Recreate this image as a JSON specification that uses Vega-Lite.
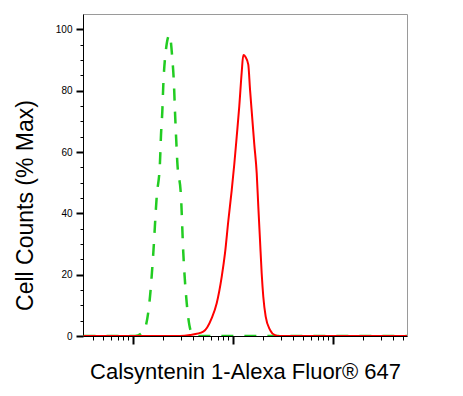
{
  "$schema": "https://vega.github.io/schema/vega-lite/v6.json",
  "width": 324,
  "height": 322,
  "autosize": {"type": "none"},
  "padding": {"left": 83, "top": 14, "right": 56, "bottom": 60},
  "background": "white",
  "config": {
    "view": {"stroke": "#9a9a9a", "strokeWidth": 1},
    "font": "Liberation Sans"
  },
  "datasets": {
    "isotype": [
      {"x": 32, "y": 0}, {"x": 104.7, "y": 0}, {"x": 126.8, "y": 1.4}, {"x": 147.9, "y": 12.8},
      {"x": 159.6, "y": 27.1}, {"x": 172.6, "y": 45.4}, {"x": 186.2, "y": 56.8}, {"x": 190.5, "y": 65.5},
      {"x": 196.3, "y": 73.1}, {"x": 200.9, "y": 81.8}, {"x": 208.9, "y": 90.5}, {"x": 231.7, "y": 98.2},
      {"x": 247.2, "y": 90.5}, {"x": 257.0, "y": 81.8}, {"x": 263.0, "y": 73.1}, {"x": 269.2, "y": 65.5},
      {"x": 277.3, "y": 56.8}, {"x": 302.0, "y": 45.4}, {"x": 318.4, "y": 27.1}, {"x": 344.4, "y": 10.8},
      {"x": 386.4, "y": 1.0}, {"x": 436.5, "y": 0}, {"x": 54900, "y": 0}
    ],
    "sample": [
      {"x": 32, "y": 0}, {"x": 295.1, "y": 0}, {"x": 371.5, "y": 0.3}, {"x": 504.7, "y": 1.4},
      {"x": 612.4, "y": 5.8}, {"x": 687.1, "y": 10.7}, {"x": 770.9, "y": 19.3}, {"x": 831.8, "y": 27},
      {"x": 897.4, "y": 37.5}, {"x": 970.5, "y": 47.5}, {"x": 1030, "y": 56}, {"x": 1089, "y": 65},
      {"x": 1156, "y": 75}, {"x": 1222, "y": 86}, {"x": 1268, "y": 91.6}, {"x": 1334, "y": 91},
      {"x": 1422, "y": 88.5}, {"x": 1479, "y": 80.5}, {"x": 1549, "y": 72}, {"x": 1633, "y": 62.5},
      {"x": 1726, "y": 53.1}, {"x": 1791, "y": 42.2}, {"x": 1862, "y": 31.3}, {"x": 1936, "y": 20.4},
      {"x": 2009, "y": 12.8}, {"x": 2123, "y": 6.3}, {"x": 2344, "y": 2.0}, {"x": 2630, "y": 0.3},
      {"x": 2951, "y": 0}, {"x": 54900, "y": 0}
    ]
  },
  "encoding": {
    "x": {
      "field": "x",
      "type": "quantitative",
      "scale": {"type": "log", "domain": [31.62, 54954], "nice": false},
      "axis": {
        "values": [40, 50, 60, 70, 80, 90, 100, 200, 300, 400, 500, 600, 700, 800, 900, 1000, 2000, 3000, 4000, 5000, 6000, 7000, 8000, 9000, 10000, 20000, 30000, 40000, 50000],
        "labels": false,
        "grid": false,
        "domainColor": "#000000",
        "domainWidth": 1,
        "tickColor": "#000000",
        "tickSize": {"condition": {"test": "datum.value == 100 || datum.value == 1000 || datum.value == 10000", "value": 8}, "value": 4},
        "tickWidth": {"condition": {"test": "datum.value == 100 || datum.value == 1000 || datum.value == 10000", "value": 2}, "value": 1},
        "title": "Calsyntenin 1-Alexa Fluor® 647",
        "titleFont": "Liberation Sans",
        "titleFontSize": 22,
        "titleFontWeight": "normal",
        "titleColor": "#000000",
        "titleBaseline": "alphabetic",
        "titleY": 42
      }
    },
    "y": {
      "field": "y",
      "type": "quantitative",
      "scale": {"domain": [0, 105], "nice": false},
      "axis": {
        "values": [0, 5, 10, 15, 20, 25, 30, 35, 40, 45, 50, 55, 60, 65, 70, 75, 80, 85, 90, 95, 100],
        "labelExpr": "datum.value % 20 === 0 ? datum.label : ''",
        "grid": false,
        "domainColor": "#000000",
        "tickColor": "#000000",
        "tickSize": {"condition": {"test": "datum.value % 20 === 0", "value": 7}, "value": 3},
        "tickWidth": {"condition": {"test": "datum.value % 20 === 0", "value": 2}, "value": 1},
        "labelFont": "Liberation Sans",
        "labelFontSize": 10,
        "labelColor": "#000000",
        "labelPadding": 4,
        "title": "Cell Counts (% Max)",
        "titleFont": "Liberation Sans",
        "titleFontSize": 23,
        "titleFontWeight": "normal",
        "titleColor": "#000000",
        "titleAngle": -90,
        "titleAlign": "center",
        "titleBaseline": "middle",
        "titleX": -58,
        "titleY": 191
      }
    }
  },
  "layer": [
    {
      "data": {"name": "isotype"},
      "mark": {"type": "line", "color": "#22cc22", "strokeWidth": 2.5, "strokeDash": [12, 11], "interpolate": "monotone", "clip": true}
    },
    {
      "data": {"name": "sample"},
      "mark": {"type": "line", "color": "#ff0000", "strokeWidth": 2, "interpolate": "monotone", "clip": true}
    }
  ]
}
